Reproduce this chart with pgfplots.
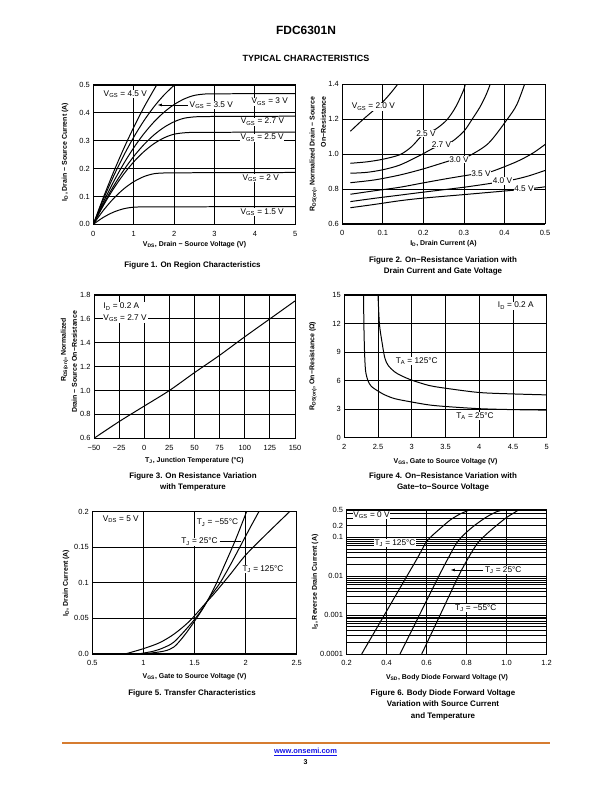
\documentclass[border=0pt]{standalone}
\usepackage{fontspec}
\setmainfont{Liberation Sans}
\usepackage{pgfplots}
\pgfplotsset{compat=1.18}
\usetikzlibrary{arrows.meta}
\definecolor{onorange}{RGB}{214,124,48}
\definecolor{linkblue}{RGB}{20,20,230}
\pgfplotsset{
 ds/.style={scale only axis, anchor=south west,
  axis line style={line width=1pt},
  grid=major, major grid style={line width=0.8pt, black},
  major tick length=0pt, minor tick length=0pt,
  tick label style={font=\fontsize{7.5}{9}\selectfont},
  xticklabel style={text height=1.6ex, text depth=0.2ex},
  /pgf/number format/assume math mode=true,
  clip=true,
  every axis plot/.append style={line width=1pt, black, mark=none},
 }}
\begin{document}
\begin{tikzpicture}[
  lab/.style={font=\fontsize{8.3}{9}\selectfont, fill=white, inner sep=0.6pt},
  alab/.style={font=\bfseries\fontsize{7}{8}\selectfont, inner sep=0pt},
  figcap/.style={font=\bfseries\fontsize{8}{11.5}\selectfont, align=center, inner sep=0pt},
]
\path[fill=white] (0,0) rectangle (612bp,792bp);

% ---------------- Figure 1
\begin{axis}[ds, at={(93.3bp,567.7bp)}, width=202bp, height=139.3bp,
 xmin=0,xmax=5,ymin=0,ymax=0.5,
 xtick={0,1,2,3,4,5}, xticklabels={0,1,2,3,4,5},
 ytick={0,0.1,0.2,0.3,0.4,0.5}, yticklabels={0.0,0.1,0.2,0.3,0.4,0.5}]
\addplot[smooth] coordinates {(0,0)(0.25,0.025)(0.5,0.0436)(0.75,0.0557)(1.0,0.0615)(1.25,0.0622)(1.5,0.0625)(2,0.0627)(3,0.063)(5,0.0632)};
\addplot[smooth] coordinates {(0,0)(0.25,0.0501)(0.5,0.0923)(0.75,0.1266)(1.0,0.1528)(1.25,0.1711)(1.5,0.1815)(1.75,0.1842)(2,0.1847)(3,0.1853)(5,0.186)};
\addplot[smooth] coordinates {(0,0)(0.25,0.0676)(0.5,0.1275)(0.75,0.1796)(1,0.2239)(1.25,0.2604)(1.5,0.2892)(1.75,0.3102)(2,0.3234)(2.3,0.329)(2.6,0.3298)(3,0.3302)(5,0.331)};
\addplot[smooth] coordinates {(0,0)(0.25,0.072)(0.5,0.1365)(0.75,0.1937)(1,0.2434)(1.25,0.2856)(1.5,0.3205)(1.75,0.348)(2,0.368)(2.25,0.3807)(2.55,0.386)(3,0.387)(5,0.388)};
\addplot[smooth] coordinates {(0,0)(0.25,0.0798)(0.5,0.1522)(0.75,0.2171)(1,0.2746)(1.25,0.3246)(1.5,0.3671)(1.75,0.4022)(2,0.4298)(2.25,0.4499)(2.5,0.4626)(2.8,0.468)(3.2,0.4685)(5,0.469)};
\addplot[smooth] coordinates {(0,0)(0.25,0.0899)(0.5,0.172)(0.75,0.246)(1,0.3125)(1.25,0.371)(1.5,0.4215)(1.75,0.464)(2,0.499)(2.05,0.505)};
\addplot[smooth] coordinates {(0,0)(0.25,0.0967)(0.5,0.187)(0.75,0.2708)(1,0.348)(1.25,0.419)(1.5,0.483)(1.6,0.507)};
\end{axis}
\node[lab] at (125.3bp,697.7bp) {V\textsubscript{GS} = 4.5 V};
\node[lab] at (211.3bp,687bp) {V\textsubscript{GS} = 3.5 V};
\draw[line width=0.9pt,-{Latex[length=5pt,width=3pt]}] (187.5bp,687bp) -- (157bp,687bp);
\node[lab] at (269.7bp,690.3bp) {V\textsubscript{GS} = 3 V};
\node[lab] at (262.5bp,670.3bp) {V\textsubscript{GS} = 2.7 V};
\node[lab] at (262.2bp,654.3bp) {V\textsubscript{GS} = 2.5 V};
\node[lab] at (260.8bp,613.7bp) {V\textsubscript{GS} = 2 V};
\node[lab] at (262.2bp,579.7bp) {V\textsubscript{GS} = 1.5 V};
\node[alab] at (194.5bp,547bp) {V\textsubscript{DS}, Drain − Source Voltage (V)};
\node[alab,rotate=90] at (65bp,640bp) {I\textsubscript{D}, Drain − Source Current (A)};
\node[figcap] at (192.5bp,527bp) {Figure 1. On Region Characteristics};

% ---------------- Figure 2
\begin{axis}[ds, at={(342.3bp,568bp)}, width=202.7bp, height=140bp,
 xmin=0,xmax=0.5,ymin=0.6,ymax=1.4,
 xtick={0,0.1,0.2,0.3,0.4,0.5}, xticklabels={0,0.1,0.2,0.3,0.4,0.5},
 ytick={0.6,0.8,1.0,1.2,1.4}, yticklabels={0.6,0.8,1.0,1.2,1.4}]
\addplot[smooth] coordinates {(0.02,1.13)(0.05,1.195)(0.08,1.255)(0.1,1.298)(0.12,1.35)(0.137,1.4)(0.145,1.43)};
\addplot[smooth] coordinates {(0.02,0.947)(0.06,0.955)(0.1,0.97)(0.142,0.996)(0.17,1.04)(0.192,1.095)(0.204,1.118)(0.229,1.14)(0.2575,1.194)(0.28,1.27)(0.3,1.37)(0.305,1.42)};
\addplot[smooth] coordinates {(0.02,0.89)(0.06,0.895)(0.1,0.91)(0.142,0.937)(0.19,0.99)(0.2245,1.033)(0.245,1.051)(0.27,1.07)(0.3,1.13)(0.319,1.194)(0.34,1.27)(0.355,1.34)(0.365,1.4)(0.368,1.43)};
\addplot[smooth] coordinates {(0.02,0.836)(0.08,0.852)(0.142,0.88)(0.2,0.915)(0.266,0.962)(0.288,0.972)(0.311,0.987)(0.36,1.06)(0.4055,1.194)(0.43,1.28)(0.45,1.4)(0.455,1.43)};
\addplot[smooth] coordinates {(0.02,0.77)(0.08,0.79)(0.142,0.81)(0.2,0.835)(0.26,0.86)(0.315,0.881)(0.342,0.89)(0.3685,0.9)(0.43,0.956)(0.47,1.005)(0.504,1.061)};
\addplot[smooth] coordinates {(0.02,0.728)(0.08,0.747)(0.142,0.765)(0.2,0.782)(0.3,0.81)(0.3685,0.833)(0.395,0.844)(0.422,0.853)(0.46,0.875)(0.504,0.909)};
\addplot[smooth] coordinates {(0.02,0.693)(0.08,0.712)(0.142,0.733)(0.2,0.748)(0.3,0.768)(0.422,0.793)(0.448,0.80)(0.475,0.805)(0.505,0.814)};
\end{axis}
\node[lab] at (373.3bp,685.3bp) {V\textsubscript{GS} = 2.0 V};
\node[lab] at (426bp,658.7bp) {2.5 V};
\node[lab] at (441.5bp,647bp) {2.7 V};
\node[lab] at (459bp,632.7bp) {3.0 V};
\node[lab] at (481bp,618.7bp) {3.5 V};
\node[lab] at (502.5bp,611bp) {4.0 V};
\node[lab] at (524bp,603bp) {4.5 V};
\node[alab] at (443.5bp,548bp) {I\textsubscript{D}, Drain Current (A)};
\node[alab,rotate=90] at (313.3bp,638bp) {R\textsubscript{DS(on)}, Normalized Drain − Source};
\node[alab,rotate=90] at (323.3bp,670bp) {On−Resistance};
\node[figcap] at (443bp,526.3bp) {Figure 2. On−Resistance Variation with\\Drain Current and Gate Voltage};

% ---------------- Figure 3
\begin{axis}[ds, at={(94bp,353.7bp)}, width=201bp, height=143.3bp,
 xmin=-50,xmax=150,ymin=0.6,ymax=1.8,
 xtick={-50,-25,0,25,50,75,100,125,150}, xticklabels={−50,−25,0,25,50,75,100,125,150},
 ytick={0.6,0.8,1.0,1.2,1.4,1.6,1.8}, yticklabels={0.6,0.8,1.0,1.2,1.4,1.6,1.8}]
\addplot[smooth] coordinates {(-50,0.6)(-25,0.74)(0,0.87)(25,1.0)(50,1.15)(75,1.295)(100,1.45)(125,1.6)(150,1.75)};
\end{axis}
\node[lab,align=left,anchor=west,font=\fontsize{8.3}{11.6}\selectfont,inner sep=1pt] at (102.3bp,479.5bp) {I\textsubscript{D} = 0.2 A\\V\textsubscript{GS} = 2.7 V};
\node[alab] at (194.5bp,331bp) {T\textsubscript{J}, Junction Temperature (°C)};
\node[alab,rotate=90] at (64.5bp,442bp) {R\textsubscript{DS(on)}, Normalized};
\node[alab,rotate=90] at (74.5bp,430bp) {Drain − Source On−Resistance};
\node[figcap] at (193bp,310.3bp) {Figure 3. On Resistance Variation\\with Temperature};

% ---------------- Figure 4
\begin{axis}[ds, at={(344.3bp,354.3bp)}, width=202.4bp, height=142.7bp,
 xmin=2,xmax=5,ymin=0,ymax=15,
 xtick={2,2.5,3,3.5,4,4.5,5}, xticklabels={2,2.5,3,3.5,4,4.5,5},
 ytick={0,3,6,9,12,15}, yticklabels={0,3,6,9,12,15}]
\addplot[smooth,tension=0.5] coordinates {(2.285,15.5)(2.29,12)(2.3,9)(2.31,7.5)(2.32,6.8)(2.35,6.0)(2.4,5.4)(2.5,4.9)(2.6,4.5)(2.75,4.1)(3.0,3.75)(3.25,3.45)(3.5,3.28)(4,3.05)(4.5,2.95)(5,2.9)};
\addplot[smooth,tension=0.5] coordinates {(2.497,15.5)(2.52,12)(2.56,10)(2.6,8.4)(2.65,7.6)(2.75,6.9)(2.85,6.5)(3,6.05)(3.25,5.5)(3.5,5.2)(4,4.75)(4.5,4.6)(5,4.5)};
\end{axis}
\node[lab] at (416.7bp,431bp) {T\textsubscript{A} = 125°C};
\node[lab] at (475bp,376bp) {T\textsubscript{A} = 25°C};
\node[lab] at (515.8bp,486.3bp) {I\textsubscript{D} = 0.2 A};
\node[alab] at (445.5bp,330.3bp) {V\textsubscript{GS}, Gate to Source Voltage (V)};
\node[alab,rotate=90] at (313bp,426bp) {R\textsubscript{DS(on)}, On−Resistance (Ω)};
\node[figcap] at (443bp,310.3bp) {Figure 4. On−Resistance Variation with\\Gate−to−Source Voltage};

% ---------------- Figure 5
\begin{axis}[ds, at={(92.3bp,138bp)}, width=204.4bp, height=142.3bp,
 xmin=0.5,xmax=2.5,ymin=0,ymax=0.2,
 xtick={0.5,1,1.5,2,2.5}, xticklabels={0.5,1,1.5,2,2.5},
 ytick={0,0.05,0.1,0.15,0.2}, yticklabels={0.0,0.05,0.1,0.15,0.2}]
\addplot[smooth,tension=0.5] coordinates {(0.82,0)(1.0,0.0075)(1.16,0.016)(1.3,0.028)(1.45,0.046)(1.6,0.07)(1.7,0.086)(1.85,0.112)(2.0,0.139)(2.2,0.168)(2.43,0.2)(2.46,0.204)};
\addplot[smooth,tension=0.5] coordinates {(0.95,0)(1.1,0.004)(1.2,0.009)(1.3,0.017)(1.45,0.04)(1.55,0.058)(1.65,0.08)(1.75,0.1)(1.85,0.125)(1.95,0.152)(2.05,0.179)(2.13,0.2)(2.15,0.205)};
\addplot[smooth,tension=0.5] coordinates {(1.0,0)(1.2,0.004)(1.3,0.01)(1.4,0.026)(1.5,0.046)(1.6,0.068)(1.7,0.095)(1.8,0.127)(1.9,0.16)(2.01,0.2)(2.03,0.206)};
\end{axis}
\node[lab] at (120.8bp,272.7bp) {V\textsubscript{DS} = 5 V};
\node[lab] at (217.5bp,269.3bp) {T\textsubscript{J} = −55°C};
\node[lab] at (199.5bp,250.3bp) {T\textsubscript{J} = 25°C};
\draw[line width=0.9pt] (219.5bp,250.3bp) -- (241bp,250.3bp);
\node[lab] at (263bp,223bp) {T\textsubscript{J} = 125°C};
\node[alab] at (194.5bp,115.3bp) {V\textsubscript{GS}, Gate to Source Voltage (V)};
\node[alab,rotate=90] at (66bp,209bp) {I\textsubscript{D}, Drain Current (A)};
\node[figcap] at (192bp,99bp) {Figure 5. Transfer Characteristics};

% ---------------- Figure 6
\begin{axis}[ds, at={(346.5bp,138bp)}, width=200bp, height=144bp,
 ymode=log, xmin=0.2,xmax=1.2,ymin=0.0001,ymax=0.5,
 grid=both, minor grid style={line width=0.7pt, black},
 xtick={0.2,0.4,0.6,0.8,1.0,1.2}, xticklabels={0.2,0.4,0.6,0.8,1.0,1.2},
 ytick={0.0001,0.001,0.01,0.1,0.2,0.5}, yticklabels={0.0001,0.001,0.01,0.1,0.2,0.5},
 minor ytick={0.0002,0.0003,0.0004,0.0005,0.0006,0.0007,0.0008,0.0009,0.002,0.003,0.004,0.005,0.006,0.007,0.008,0.009,0.02,0.03,0.04,0.05,0.06,0.07,0.08,0.09,0.3,0.4}]
\addplot[smooth,tension=0.5] coordinates {(0.276,0.0001)(0.389,0.001)(0.502,0.01)(0.556,0.03)(0.595,0.07)(0.62,0.1)(0.67,0.17)(0.72,0.28)(0.77,0.4)(0.815,0.5)(0.83,0.55)};
\addplot[smooth,tension=0.5] coordinates {(0.4675,0.0001)(0.5645,0.001)(0.6615,0.01)(0.71,0.03)(0.75,0.07)(0.79,0.12)(0.84,0.2)(0.9,0.33)(0.95,0.45)(0.98,0.5)(0.99,0.55)};
\addplot[smooth,tension=0.5] coordinates {(0.576,0.0001)(0.668,0.001)(0.76,0.01)(0.81,0.03)(0.855,0.07)(0.9,0.12)(0.95,0.2)(1.0,0.32)(1.04,0.43)(1.06,0.5)(1.07,0.55)};
\end{axis}
\node[lab] at (371.5bp,277bp) {V\textsubscript{GS} = 0 V};
\node[lab] at (395bp,248.7bp) {T\textsubscript{J} = 125°C};
\node[lab] at (503.3bp,222bp) {T\textsubscript{J} = 25°C};
\draw[line width=0.9pt,-{Latex[length=5pt,width=3pt]}] (483bp,222bp) -- (450bp,222bp);
\node[lab] at (475.8bp,183.7bp) {T\textsubscript{J} = −55°C};
\node[alab] at (447bp,114bp) {V\textsubscript{SD}, Body Diode Forward Voltage (V)};
\node[alab,rotate=90] at (315bp,210bp) {I\textsubscript{S}, Reverse Drain Current (A)};
\node[figcap] at (443bp,87.5bp) {Figure 6. Body Diode Forward Voltage\\Variation with Source Current\\and Temperature};

% ---------------- header / footer
\node[font=\bfseries\fontsize{12}{14}\selectfont] at (306bp,762bp) {FDC6301N};
\node[font=\bfseries\fontsize{9}{11}\selectfont] at (306bp,734bp) {TYPICAL CHARACTERISTICS};
\draw[onorange, line width=2bp] (62bp,48.5bp) -- (550bp,48.5bp);
\node[text=linkblue, font=\bfseries\fontsize{7.5}{9}\selectfont, inner sep=0pt] at (305.5bp,40bp) {\underline{www.onsemi.com}};
\node[font=\bfseries\fontsize{7}{8}\selectfont, inner sep=0pt] at (305.5bp,30bp) {3};
\end{tikzpicture}
\end{document}
